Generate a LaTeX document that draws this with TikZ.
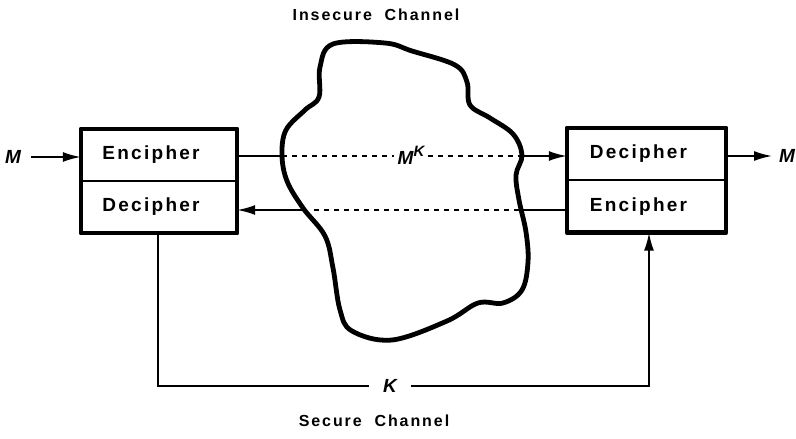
\documentclass[tikz,border=0pt]{standalone}
\usepackage{fontspec}
\setmainfont{Liberation Sans}
\newfontfamily\lab[LetterSpace=12]{Liberation Sans}
\usetikzlibrary{arrows.meta}
\newcommand{\lft}[1]{#1\hspace*{16pt}}
\begin{document}
\begin{tikzpicture}[x=1pt,y=-1pt,
  half/.style={draw=none,minimum height=52pt,inner sep=0pt,font=\lab\bfseries\fontsize{19}{22}\selectfont},
  frame/.style={line width=4.5pt,line join=round},
  conn/.style={line width=1.8pt},
  arr/.style={conn,-{Latex[length=18pt,width=10pt]}},
  dsh/.style={line width=1.8pt,dash pattern=on 5pt off 5pt},
  lbl/.style={inner sep=0pt,font=\lab\bfseries\fontsize{16}{19}\selectfont},
  var/.style={inner sep=0pt,font=\lab\bfseries\itshape\fontsize{19}{22}\selectfont}]
\useasboundingbox (0,0) rectangle (796,439);
% boxes
\node[half,minimum width=156pt] (enc1) at (159,155) {\lft{Encipher}};
\node[half,minimum width=156pt] (dec1) at (159,207) {\lft{Decipher}};
\node[half,minimum width=159pt] (dec2) at (646.5,154) {\lft{Decipher}};
\node[half,minimum width=159pt] (enc2) at (646.5,206.5) {\lft{Encipher}};
\draw[conn] (enc1.south west) -- (enc1.south east);
\draw[conn] (dec2.south west) -- (dec2.south east);
\draw[frame] (enc1.north west) rectangle (dec1.south east);
\draw[frame] (dec2.north west) rectangle (enc2.south east);
% cloud
\draw[line width=4.8pt,line join=round] plot[smooth cycle,tension=0.6] coordinates {
 (333,44) (385,43) (412,51) (455,65) (467,82) (470,105) (490,118) (513,134)
 (522,155) (516,175) (519,200) (526,232) (528,262) (522,290) (503,303)
 (478,303) (447,321) (392,340) (352,331) (340,310) (333,268) (325,236)
 (303,208) (287,181) (282,155) (286,130) (305,110) (319,97) (320,67)};
% labels
\node[lbl] (ins) at (376,15) {Insecure\hspace{0.8em}Channel};
\node[lbl] (sec) at (374,421) {Secure\hspace{0.8em}Channel};
\node[var] (mL) at (13,157) {M};
\node[var,anchor=west] (mR) at (779,156) {M};
\node[var,inner xsep=3pt] (mk) at (411,155) {M\raisebox{8pt}{\fontsize{15}{17}\selectfont K}};
\node[var,inner xsep=14pt,inner ysep=2pt] (k) at (390,386) {K};
% connector coordinates on the cloud edge
\coordinate (cl1) at (282,156);
\coordinate (cr1) at (522,156);
\coordinate (cl2) at (303,210);
\coordinate (cr2) at (519,210);
% connectors
\draw[arr,shorten <=10pt] (mL.east) -- (enc1.west |- mL.east);
\draw[arr,shorten >=7pt] (dec2.east |- mR.west) -- (mR.west);
\draw[conn] (enc1.east |- cl1) -- (cl1);
\draw[dsh] (cl1) -- (mk.west |- cl1);
\draw[dsh] (mk.east |- cr1) -- (cr1);
\draw[arr] (cr1) -- (dec2.west |- cr1);
\draw[conn] (enc2.west |- cr2) -- (cr2);
\draw[dsh] (cr2) -- ([xshift=10pt]cl2);
\draw[arr] (cl2) -- (dec1.east |- cl2);
\draw[conn] ([xshift=-1pt]dec1.south) |- (k.west);
\draw[arr] (k.east) -| ([xshift=2.5pt]enc2.south);
\end{tikzpicture}
\end{document}
